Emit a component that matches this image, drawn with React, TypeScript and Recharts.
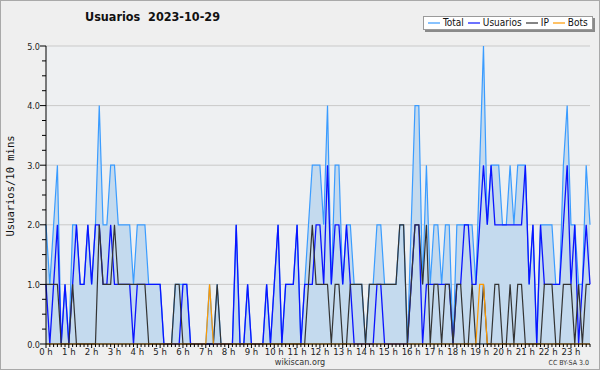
import React from "react";
import { ComposedChart, Area, Line, XAxis, YAxis, CartesianGrid, Legend } from "recharts";

// 10-minute slots, 0..143
const slots: number[] = Array.from({ length: 144 }, (_, i) => i);

const hourLabels = [
  "0 h", "1 h", "2 h", "3 h", "4 h", "5 h", "6 h", "7 h", "8 h", "9 h", "10 h", "11 h",
  "12 h", "13 h", "14 h", "15 h", "16 h", "17 h", "18 h", "19 h", "20 h", "21 h", "22 h", "23 h",
];

const totalValues = [
  2, 1, 2, 3, 0, 1, 0, 2, 2, 1,
  1, 2, 1, 2, 4, 2, 2, 3, 3, 2,
  2, 2, 2, 1, 2, 2, 2, 1, 1, 1,
  1, 0, 0, 0, 1, 1, 1, 1, 0, 0,
  0, 0, 0, 1, 0, 1, 0, 0, 0, 0,
  2, 0, 0, 1, 0, 0, 0, 0, 1, 0,
  1, 2, 0, 1, 1, 1, 2, 0, 1, 2,
  3, 3, 3, 2, 4, 1, 3, 3, 1, 2,
  2, 1, 1, 1, 0, 1, 1, 2, 2, 1,
  1, 1, 1, 2, 2, 0, 2, 4, 4, 1,
  3, 1, 2, 2, 1, 2, 2, 0, 2, 2,
  2, 2, 2, 1, 3, 5, 2, 3, 3, 3,
  2, 2, 3, 2, 3, 3, 3, 1, 2, 0,
  2, 2, 2, 2, 1, 1, 3, 4, 2, 2,
  1, 1, 3, 2,
];

const usuariosValues = [
  1, 0, 1, 2, 0, 1, 0, 1, 2, 1,
  1, 2, 1, 2, 2, 1, 1, 2, 1, 1,
  1, 1, 1, 0, 1, 1, 1, 1, 1, 1,
  1, 0, 0, 0, 0, 0, 1, 1, 0, 0,
  0, 0, 0, 0, 0, 0, 0, 0, 0, 0,
  2, 0, 0, 1, 0, 0, 0, 0, 1, 0,
  1, 2, 0, 1, 1, 1, 2, 0, 1, 1,
  1, 2, 2, 1, 3, 1, 2, 2, 1, 2,
  1, 0, 0, 0, 0, 0, 0, 1, 1, 0,
  0, 0, 0, 0, 0, 0, 1, 2, 2, 0,
  1, 1, 1, 1, 1, 1, 1, 0, 1, 1,
  2, 2, 1, 1, 2, 3, 2, 3, 2, 2,
  2, 2, 2, 2, 2, 2, 3, 1, 2, 0,
  2, 1, 1, 1, 1, 1, 2, 3, 1, 2,
  0, 1, 2, 1,
];

const ipValues = [
  1, 1, 1, 1, 0, 0, 0, 1, 0, 0,
  0, 0, 0, 0, 2, 1, 1, 1, 2, 1,
  1, 1, 1, 1, 1, 1, 1, 0, 0, 0,
  0, 0, 0, 0, 1, 1, 0, 0, 0, 0,
  0, 0, 0, 0, 0, 1, 0, 0, 0, 0,
  0, 0, 0, 0, 0, 0, 0, 0, 0, 0,
  0, 0, 0, 0, 0, 0, 0, 0, 0, 1,
  2, 1, 1, 1, 1, 0, 1, 1, 0, 0,
  1, 1, 1, 1, 0, 1, 1, 1, 1, 1,
  1, 1, 1, 2, 2, 0, 1, 2, 2, 1,
  2, 0, 1, 1, 0, 1, 1, 0, 1, 1,
  0, 0, 1, 0, 0, 1, 0, 0, 1, 1,
  0, 0, 1, 0, 1, 1, 0, 0, 0, 0,
  0, 1, 1, 1, 0, 0, 1, 1, 1, 0,
  1, 0, 1, 1,
];

const botsValues = [
  0, 0, 0, 0, 0, 0, 0, 0, 0, 0,
  0, 0, 0, 0, 0, 0, 0, 0, 0, 0,
  0, 0, 0, 0, 0, 0, 0, 0, 0, 0,
  0, 0, 0, 0, 0, 0, 0, 0, 0, 0,
  0, 0, 0, 1, 0, 0, 0, 0, 0, 0,
  0, 0, 0, 0, 0, 0, 0, 0, 0, 0,
  0, 0, 0, 0, 0, 0, 0, 0, 0, 0,
  0, 0, 0, 0, 0, 0, 0, 0, 0, 0,
  0, 0, 0, 0, 0, 0, 0, 0, 0, 0,
  0, 0, 0, 0, 0, 0, 0, 0, 0, 0,
  0, 0, 0, 0, 0, 0, 0, 0, 0, 0,
  0, 0, 0, 0, 1, 1, 0, 0, 0, 0,
  0, 0, 0, 0, 0, 0, 0, 0, 0, 0,
  0, 0, 0, 0, 0, 0, 0, 0, 0, 0,
  0, 0, 0, 0,
];

const yTicks = [0, 0.25, 0.5, 0.75, 1, 1.25, 1.5, 1.75, 2, 2.25, 2.5, 2.75, 3, 3.25, 3.5, 3.75, 4, 4.25, 4.5, 4.75, 5];

const seriesNames = ["Total", "Usuarios", "IP", "Bots"];
const seriesColors = ["#3a9cff", "#0a14ff", "#333333", "#ff9a00"];

const data = slots.map((s, i) => ({
  slot: s,
  total: totalValues[i],
  usuarios: usuariosValues[i],
  ip: ipValues[i],
  bots: botsValues[i],
}));

const FONT = "'DejaVu Sans Condensed', 'DejaVu Sans', sans-serif";

const XTick = (props: any) => {
  const { x, y, payload } = props;
  const v = payload.value as number;
  const major = v % 6 === 0;
  return (
    <g>
      <line x1={x} x2={x} y1={y} y2={y + (major ? 4 : 3)} stroke="#000" strokeWidth={1} />
      {major && (
        <text x={x} y={y + 10.5} textAnchor="middle" fontFamily={FONT} fontSize={9.5} fill="#222">
          {hourLabels[v / 6]}
        </text>
      )}
    </g>
  );
};

const YTick = (props: any) => {
  const { x, y, payload } = props;
  const v = payload.value as number;
  const major = Number.isInteger(v);
  return (
    <g>
      <line x1={x} x2={x - (major ? 6 : 4)} y1={y} y2={y} stroke="#000" strokeWidth={1} />
      {major && (
        <text x={x - 6} y={y + 3.5} textAnchor="end" fontFamily={FONT} fontSize={9} fill="#222">
          {v.toFixed(1)}
        </text>
      )}
    </g>
  );
};

const LegendBox = () => (
  <div
    style={{
      position: "relative",
      width: 170,
      height: 14,
      background: "#ffffff",
      border: "1px solid #9a9a9a",
      boxShadow: "2px 2px 0 #8a8a8a",
      fontFamily: FONT,
      fontSize: 10,
      lineHeight: "12px",
      color: "#111",
      display: "flex",
      alignItems: "center",
      paddingLeft: 4,
      boxSizing: "border-box",
      whiteSpace: "nowrap",
    }}
  >
    {seriesNames.map((n, i) => (
      <span key={n} style={{ display: "inline-flex", alignItems: "center", marginRight: 4 }}>
        <svg width={12} height={6} style={{ marginRight: 3, display: "block" }}>
          <line x1={0} x2={12} y1={3} y2={3} stroke={seriesColors[i]} strokeWidth={1.2} />
        </svg>
        {n}
      </span>
    ))}
  </div>
);

export default function App() {
  return (
    <div style={{ position: "absolute", left: 0, top: 0, width: 600, height: 370, background: "#efefef", overflow: "hidden" }}>
      <div
        style={{
          position: "absolute",
          left: 85,
          top: 9,
          fontFamily: FONT,
          fontWeight: "bold",
          fontSize: 12.5,
          color: "#111",
          whiteSpace: "pre",
        }}
      >
        {"Usuarios  2023-10-29"}
      </div>
      <div
        style={{
          position: "absolute",
          left: 10,
          top: 186,
          transform: "translate(-50%, -50%) rotate(-90deg)",
          fontFamily: "'DejaVu Sans Mono', monospace",
          fontSize: 10.5,
          color: "#111",
          whiteSpace: "nowrap",
        }}
      >
        Usuarios/10 mins
      </div>
      <ComposedChart
        width={600}
        height={370}
        data={data}
        margin={{ top: 32, right: 10, left: 0, bottom: 0 }}
      >
        <CartesianGrid
          vertical={false}
          horizontalValues={[1, 2, 3, 4, 5]}
          stroke="#c9c9c9"
          fill="#eef0f2"
          fillOpacity={1}
        />
        <XAxis
          dataKey="slot"
          type="number"
          domain={[0, 143]}
          ticks={slots}
          interval={0}
          height={26}
          tickSize={0}
          tickMargin={0}
          tickLine={false}
          tick={<XTick />}
          axisLine={{ stroke: "#000" }}
          allowDecimals={false}
        />
        <YAxis
          type="number"
          domain={[0, 5]}
          ticks={yTicks}
          interval={0}
          width={46}
          tickSize={0}
          tickMargin={0}
          tickLine={false}
          tick={<YTick />}
          axisLine={{ stroke: "#000" }}
        />
        <Legend
          verticalAlign="top"
          align="right"
          content={<LegendBox />}
          wrapperStyle={{ position: "absolute", left: 423, top: 16, width: 172 }}
        />
        <Area
          type="linear"
          dataKey="total"
          name="Total"
          stroke={seriesColors[0]}
          strokeWidth={1.2}
          fill="#c4daee"
          fillOpacity={1}
          dot={false}
          activeDot={false}
          isAnimationActive={false}
        />
        <Line type="linear" dataKey="usuarios" name="Usuarios" stroke={seriesColors[1]} strokeWidth={1.3} dot={false} activeDot={false} isAnimationActive={false} />
        <Line type="linear" dataKey="ip" name="IP" stroke={seriesColors[2]} strokeWidth={1.2} dot={false} activeDot={false} isAnimationActive={false} />
        <Line type="linear" dataKey="bots" name="Bots" stroke={seriesColors[3]} strokeWidth={1.2} dot={false} activeDot={false} isAnimationActive={false} />
      </ComposedChart>
      <div
        style={{
          position: "absolute",
          left: 300,
          top: 357,
          transform: "translateX(-50%)",
          fontFamily: FONT,
          fontSize: 9,
          lineHeight: "10px",
          color: "#333",
          whiteSpace: "nowrap",
        }}
      >
        wikiscan.org
      </div>
      <div
        style={{
          position: "absolute",
          right: 11,
          top: 359,
          fontFamily: FONT,
          fontSize: 7,
          lineHeight: "8px",
          color: "#333",
          whiteSpace: "nowrap",
        }}
      >
        CC BY-SA 3.0
      </div>
      <div
        style={{
          position: "absolute",
          left: 0,
          top: 0,
          width: 600,
          height: 370,
          boxSizing: "border-box",
          border: "1px solid #a9a9a9",
          pointerEvents: "none",
        }}
      />
    </div>
  );
}
